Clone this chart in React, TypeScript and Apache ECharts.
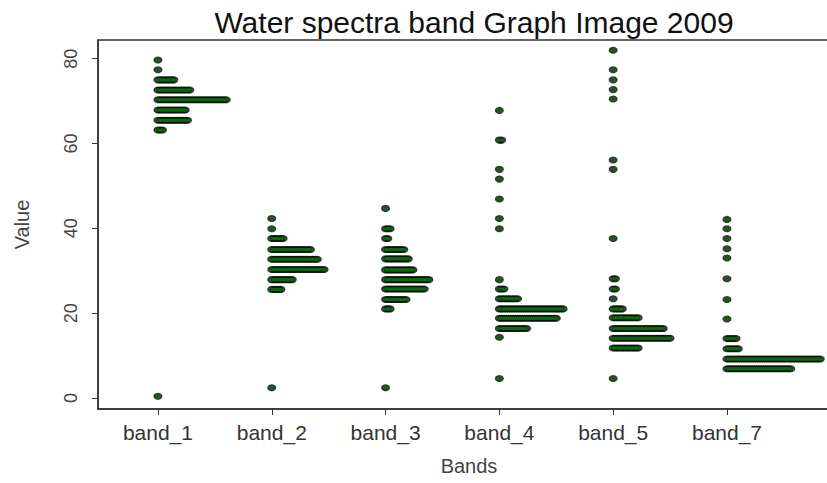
import React, { useEffect, useRef } from "react";
import * as echarts from "echarts";

// Category names and their positions on the x axis
const categories = ["band_1", "band_2", "band_3", "band_4", "band_5", "band_7"];
const yTicks = [0, 20, 40, 60, 80];

// Each row: [value, number of stacked observations at that value]
const band1Rows: [number, number][] = [
  [79.7, 1], [77.4, 1], [75.0, 8], [72.6, 15], [70.3, 31], [67.9, 13], [65.5, 14], [63.2, 3], [0.4, 1],
];
const band2Rows: [number, number][] = [
  [42.3, 1], [39.9, 1], [37.6, 6], [35.0, 18], [32.7, 21], [30.3, 24], [27.9, 10], [25.6, 5], [2.4, 1],
];
const band3Rows: [number, number][] = [
  [44.7, 1], [39.9, 3], [37.6, 2], [35.0, 9], [32.8, 11], [30.2, 13], [27.9, 20], [25.7, 18], [23.2, 10], [21.0, 3], [2.4, 1],
];
const band4Rows: [number, number][] = [
  [67.8, 1], [60.8, 2], [53.9, 1], [51.6, 1], [46.9, 1], [42.3, 1], [39.9, 1], [27.9, 1], [25.7, 3], [23.4, 9],
  [21.0, 29], [18.8, 26], [16.4, 13], [14.3, 1], [4.6, 1],
];
const band5Rows: [number, number][] = [
  [82.0, 1], [77.4, 1], [75.0, 1], [72.7, 1], [70.5, 1], [56.1, 1], [53.9, 1], [37.6, 1], [28.1, 2], [25.7, 2],
  [23.4, 1], [21.0, 5], [18.9, 12], [16.4, 23], [14.1, 26], [11.8, 12], [4.6, 1],
];
const band7Rows: [number, number][] = [
  [42.1, 1], [39.9, 1], [37.6, 1], [35.2, 1], [33.0, 1], [28.1, 1], [23.2, 1], [18.6, 1], [14.0, 5], [11.6, 6],
  [9.2, 42], [6.9, 29],
];

const allRows = [band1Rows, band2Rows, band3Rows, band4Rows, band5Rows, band7Rows];
const STACK_STEP = 0.02; // horizontal offset between stacked points (x-axis units)

function buildPoints(): number[][] {
  const pts: number[][] = [];
  allRows.forEach((rows, i) => {
    const xc = i + 1;
    rows.forEach(([v, n]) => {
      for (let k = 0; k < n; k++) pts.push([xc + k * STACK_STEP, v]);
    });
  });
  return pts;
}

export default function App() {
  const ref = useRef<HTMLDivElement>(null);
  useEffect(() => {
    if (!ref.current) return;
    const chart = echarts.init(ref.current, undefined, { renderer: "svg" });
    const font = "Liberation Sans, Arial, sans-serif";
    const points = buildPoints();
    chart.setOption({
      animation: false,
      backgroundColor: "#ffffff",
      title: {
        text: "Water spectra band Graph Image 2009",
        left: 469,
        textAlign: "center",
        top: 2,
        textStyle: { fontFamily: font, fontSize: 30, fontWeight: "normal", color: "#111" },
      },
      grid: {
        left: 98,
        right: -13,
        top: 40,
        bottom: 74,
        show: true,
        borderColor: "#333",
        borderWidth: 1.5,
        backgroundColor: "transparent",
        outerBoundsMode: "none",
      },
      xAxis: {
        type: "value",
        min: 0.473,
        max: 6.993,
        name: "Bands",
        nameLocation: "middle",
        nameGap: 47,
        nameTextStyle: { fontFamily: font, fontSize: 20, color: "#444" },
        axisLine: { show: true, onZero: false, lineStyle: { color: "#333", width: 1.5 } },
        axisTick: { show: true, length: 6, customValues: [1, 2, 3, 4, 5, 6], lineStyle: { color: "#333" } },
        axisLabel: {
          customValues: [1, 2, 3, 4, 5, 6],
          formatter: (v: number) => categories[Math.round(v) - 1] ?? "",
          fontFamily: font,
          fontSize: 21,
          color: "#333",
          margin: 13,
        },
        splitLine: { show: false },
      },
      yAxis: {
        type: "value",
        min: -2.6,
        max: 84.4,
        name: "Value",
        nameLocation: "middle",
        nameRotate: 90,
        nameGap: 66,
        nameTextStyle: { fontFamily: font, fontSize: 20, color: "#444" },
        axisLine: { show: true, onZero: false, lineStyle: { color: "#333", width: 1.5 } },
        axisTick: { show: true, length: 6, customValues: yTicks, lineStyle: { color: "#333" } },
        axisLabel: {
          customValues: yTicks,
          rotate: 90,
          fontFamily: font,
          fontSize: 18,
          color: "#444",
          margin: 18,
        },
        splitLine: { show: false },
      },
      series: [
        {
          // black outline layer
          type: "scatter",
          data: points,
          symbol: "circle",
          symbolSize: [9, 7],
          itemStyle: { color: "#050a05" },
          emphasis: { disabled: true },
          z: 2,
        },
        {
          // dark green fill layer
          type: "scatter",
          data: points,
          symbol: "circle",
          symbolSize: [6, 3.5],
          itemStyle: { color: "#0d6a12" },
          emphasis: { disabled: true },
          z: 3,
        },
      ],
    });
    return () => chart.dispose();
  }, []);
  return <div ref={ref} style={{ position: "fixed", left: 0, top: 0, width: 827, height: 483 }} />;
}
